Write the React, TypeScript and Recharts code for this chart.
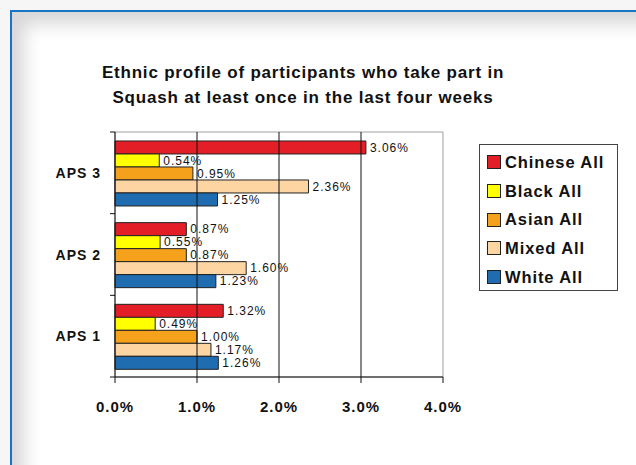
import {
  Bar,
  BarChart,
  LabelList,
  ReferenceArea,
  ReferenceLine,
  XAxis,
  YAxis,
} from "recharts";

const categories = ["APS 3", "APS 2", "APS 1"];
const chineseAll = [3.06, 0.87, 1.32];
const blackAll = [0.54, 0.55, 0.49];
const asianAll = [0.95, 0.87, 1.0];
const mixedAll = [2.36, 1.6, 1.17];
const whiteAll = [1.25, 1.23, 1.26];
const xTicks = [0, 1, 2, 3, 4];
const gridTicks = [1, 2, 3];

const titleLines = [
  "Ethnic profile of participants who take part in",
  "Squash at least once in the last four weeks",
];

const series = [
  { key: "chinese", name: "Chinese All", color: "#e41e26" },
  { key: "black", name: "Black All", color: "#ffff00" },
  { key: "asian", name: "Asian All", color: "#f6a11c" },
  { key: "mixed", name: "Mixed All", color: "#fdd5a2" },
  { key: "white", name: "White All", color: "#1f6cb0" },
];

const data = categories.map((name, i) => ({
  name,
  chinese: chineseAll[i],
  black: blackAll[i],
  asian: asianAll[i],
  mixed: mixedAll[i],
  white: whiteAll[i],
}));

const W = 636;
const H = 465;
const margin = { top: 132, right: 193, left: 0, bottom: 48 };
const xAxisHeight = 40;
const yAxisWidth = 115;
const bandHalf =
  (H - margin.top - margin.bottom - xAxisHeight) / categories.length / 2;

const font = '"Liberation Sans", Arial, sans-serif';

function CategoryTick(props: any) {
  const { x, y, payload, index } = props;
  return (
    <g>
      <line x1={x - 5} x2={x} y1={y - bandHalf} y2={y - bandHalf} stroke="#111" />
      {index === categories.length - 1 && (
        <line x1={x - 5} x2={x} y1={y + bandHalf} y2={y + bandHalf} stroke="#111" />
      )}
      <text
        x={x - 14}
        y={y}
        dy="0.36em"
        textAnchor="end"
        fill="#111"
        style={{ fontFamily: font, fontSize: 14, fontWeight: 700, letterSpacing: 1 }}
      >
        {payload.value}
      </text>
    </g>
  );
}

export default function App() {
  return (
    <div
      style={{
        position: "absolute",
        left: 0,
        top: 0,
        width: W,
        height: H,
        overflow: "hidden",
        background: "#f6f6f6",
        fontFamily: font,
      }}
    >
      <div
        style={{
          position: "absolute",
          left: 10,
          top: 10,
          width: 660,
          height: 480,
          border: "2px solid #1a74c6",
          background: "#fff",
          boxShadow: "inset 18px 18px 18px -6px rgba(0,0,0,0.16)",
        }}
      />
      <div
        style={{
          position: "absolute",
          left: 53,
          width: 500,
          top: 60,
          textAlign: "center",
          fontSize: 17,
          fontWeight: 700,
          letterSpacing: 0.8,
          lineHeight: "25px",
          color: "#111",
        }}
      >
        {titleLines.map((t) => (
          <div key={t}>{t}</div>
        ))}
      </div>
      <div style={{ position: "absolute", left: 0, top: 0 }}>
        <BarChart
          width={W}
          height={H}
          data={data}
          layout="vertical"
          margin={margin}
          barCategoryGap="11%"
          barGap={0}
        >
          <ReferenceArea
            x1={0}
            x2={4}
            fill="#fff"
            fillOpacity={1}
            stroke="#a0a0a0"
            ifOverflow="visible"
          />
          {gridTicks.map((t) => (
            <ReferenceLine key={t} x={t} stroke="#111" />
          ))}
          <XAxis
            type="number"
            domain={[0, 4]}
            ticks={xTicks}
            height={xAxisHeight}
            tickFormatter={(v: number) => `${v.toFixed(1)}%`}
            axisLine={{ stroke: "#111" }}
            tickLine={{ stroke: "#111" }}
            tickSize={6}
            tickMargin={18}
            tick={{
              fill: "#111",
              fontFamily: font,
              fontSize: 15,
              fontWeight: 700,
              letterSpacing: 1,
            }}
          />
          <YAxis
            type="category"
            dataKey="name"
            width={yAxisWidth}
            axisLine={{ stroke: "#111" }}
            tickLine={false}
            tickSize={0}
            tickMargin={0}
            tick={<CategoryTick />}
          />
          {series.map((s) => (
            <Bar
              key={s.key}
              dataKey={s.key}
              name={s.name}
              fill={s.color}
              stroke="#222"
              strokeWidth={1}
              isAnimationActive={false}
            >
              <LabelList
                dataKey={s.key}
                position="right"
                offset={4}
                formatter={(v: any) => `${Number(v).toFixed(2)}%`}
                fill="#111"
                style={{ fontFamily: font, fontSize: 12, letterSpacing: 1 }}
              />
            </Bar>
          ))}
        </BarChart>
      </div>
      <div
        style={{
          position: "absolute",
          left: 479,
          top: 144,
          width: 139,
          height: 147,
          border: "1px solid #444",
          background: "#fff",
          boxSizing: "border-box",
          paddingTop: 3,
        }}
      >
        {series.map((s) => (
          <div
            key={s.key}
            style={{
              display: "flex",
              alignItems: "center",
              height: 28.7,
              paddingLeft: 7,
            }}
          >
            <span
              style={{
                width: 12,
                height: 12,
                background: s.color,
                border: "1px solid #222",
                marginRight: 4,
              }}
            />
            <span
              style={{
                fontSize: 16.5,
                fontWeight: 700,
                letterSpacing: 0.9,
                color: "#111",
              }}
            >
              {s.name}
            </span>
          </div>
        ))}
      </div>
    </div>
  );
}
